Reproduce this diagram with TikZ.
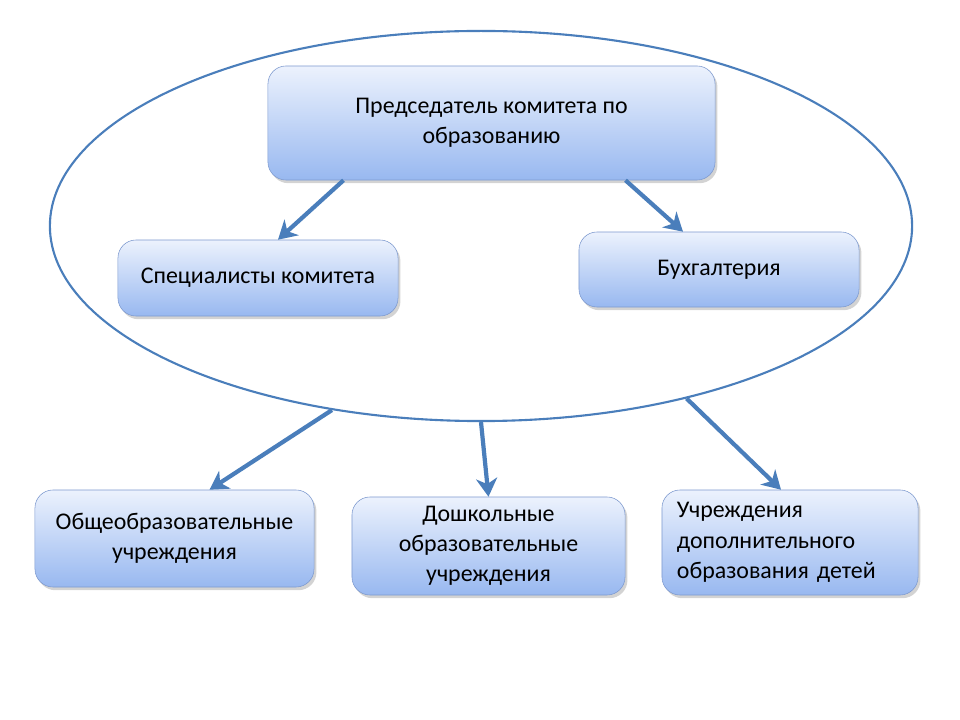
\documentclass[tikz,border=0pt]{standalone}
\usepackage{fontspec}
\setmainfont{Carlito}
\usetikzlibrary{shapes.geometric,arrows.meta,shadows}

\definecolor{linkblue}{RGB}{74,126,187}
\definecolor{boxdraw}{RGB}{126,154,207}
\definecolor{boxtop}{RGB}{236,242,253}
\definecolor{boxbot}{RGB}{152,184,240}

\begin{document}
\begin{tikzpicture}[
    x=0.025cm, y=-0.025cm,
    unitbox/.style={rectangle, rounded corners=0.45cm, draw=boxdraw, thin,
        top color=boxtop, bottom color=boxbot, align=center,
        font=\fontsize{17}{21.5}\selectfont,
        drop shadow={shadow xshift=0.06cm, shadow yshift=-0.08cm, opacity=0.35}},
    link/.style={-{Stealth[length=13pt, width=15pt, inset=4pt]}, line width=3pt, draw=linkblue}
]
\useasboundingbox (0,0) rectangle (960,720);

% Oval round the committee
\node[ellipse, draw=linkblue, line width=1.5pt, minimum width=21.55cm, minimum height=9.75cm] (oval) at (481,226) {};

% Committee
\node[unitbox, minimum width=11.175cm, minimum height=2.85cm] (chair) at (491.5,123)
    {Председатель комитета по\\образованию};
\node[unitbox, minimum width=7cm, minimum height=1.9cm] (spec) at (258,278)
    {Специалисты комитета};
\node[unitbox, minimum width=7cm, minimum height=1.875cm] (acct) at (719,269.5)
    {Бухгалтерия};

% Institutions
\node[unitbox, minimum width=6.975cm, minimum height=2.425cm] (school) at (174.5,538.5)
    {Общеобразовательные\\учреждения};
\node[unitbox, minimum width=6.825cm, minimum height=2.45cm] (preschool) at (488.5,546)
    {Дошкольные\\образовательные\\учреждения};
\node[unitbox, minimum height=2.625cm, text width=5.65cm, inner xsep=0.375cm, align=left] (extra) at (790,542.5)
    {Учреждения\\дополнительного\\образования детей};

% Arrows
\draw[link] ([shift={(-148,0)}]chair.south) -- ([shift={(20,0)}]spec.north);
\draw[link] ([shift={(134,0)}]chair.south) -- ([shift={(-36,0)}]acct.north);
\draw[link] (oval.231) -- ([shift={(35,0)}]school.north);
\draw[link] (oval.270) -- (preschool.north);
\draw[link] (oval.320) -- ([shift={(-9,0)}]extra.north);

\end{tikzpicture}
\end{document}
